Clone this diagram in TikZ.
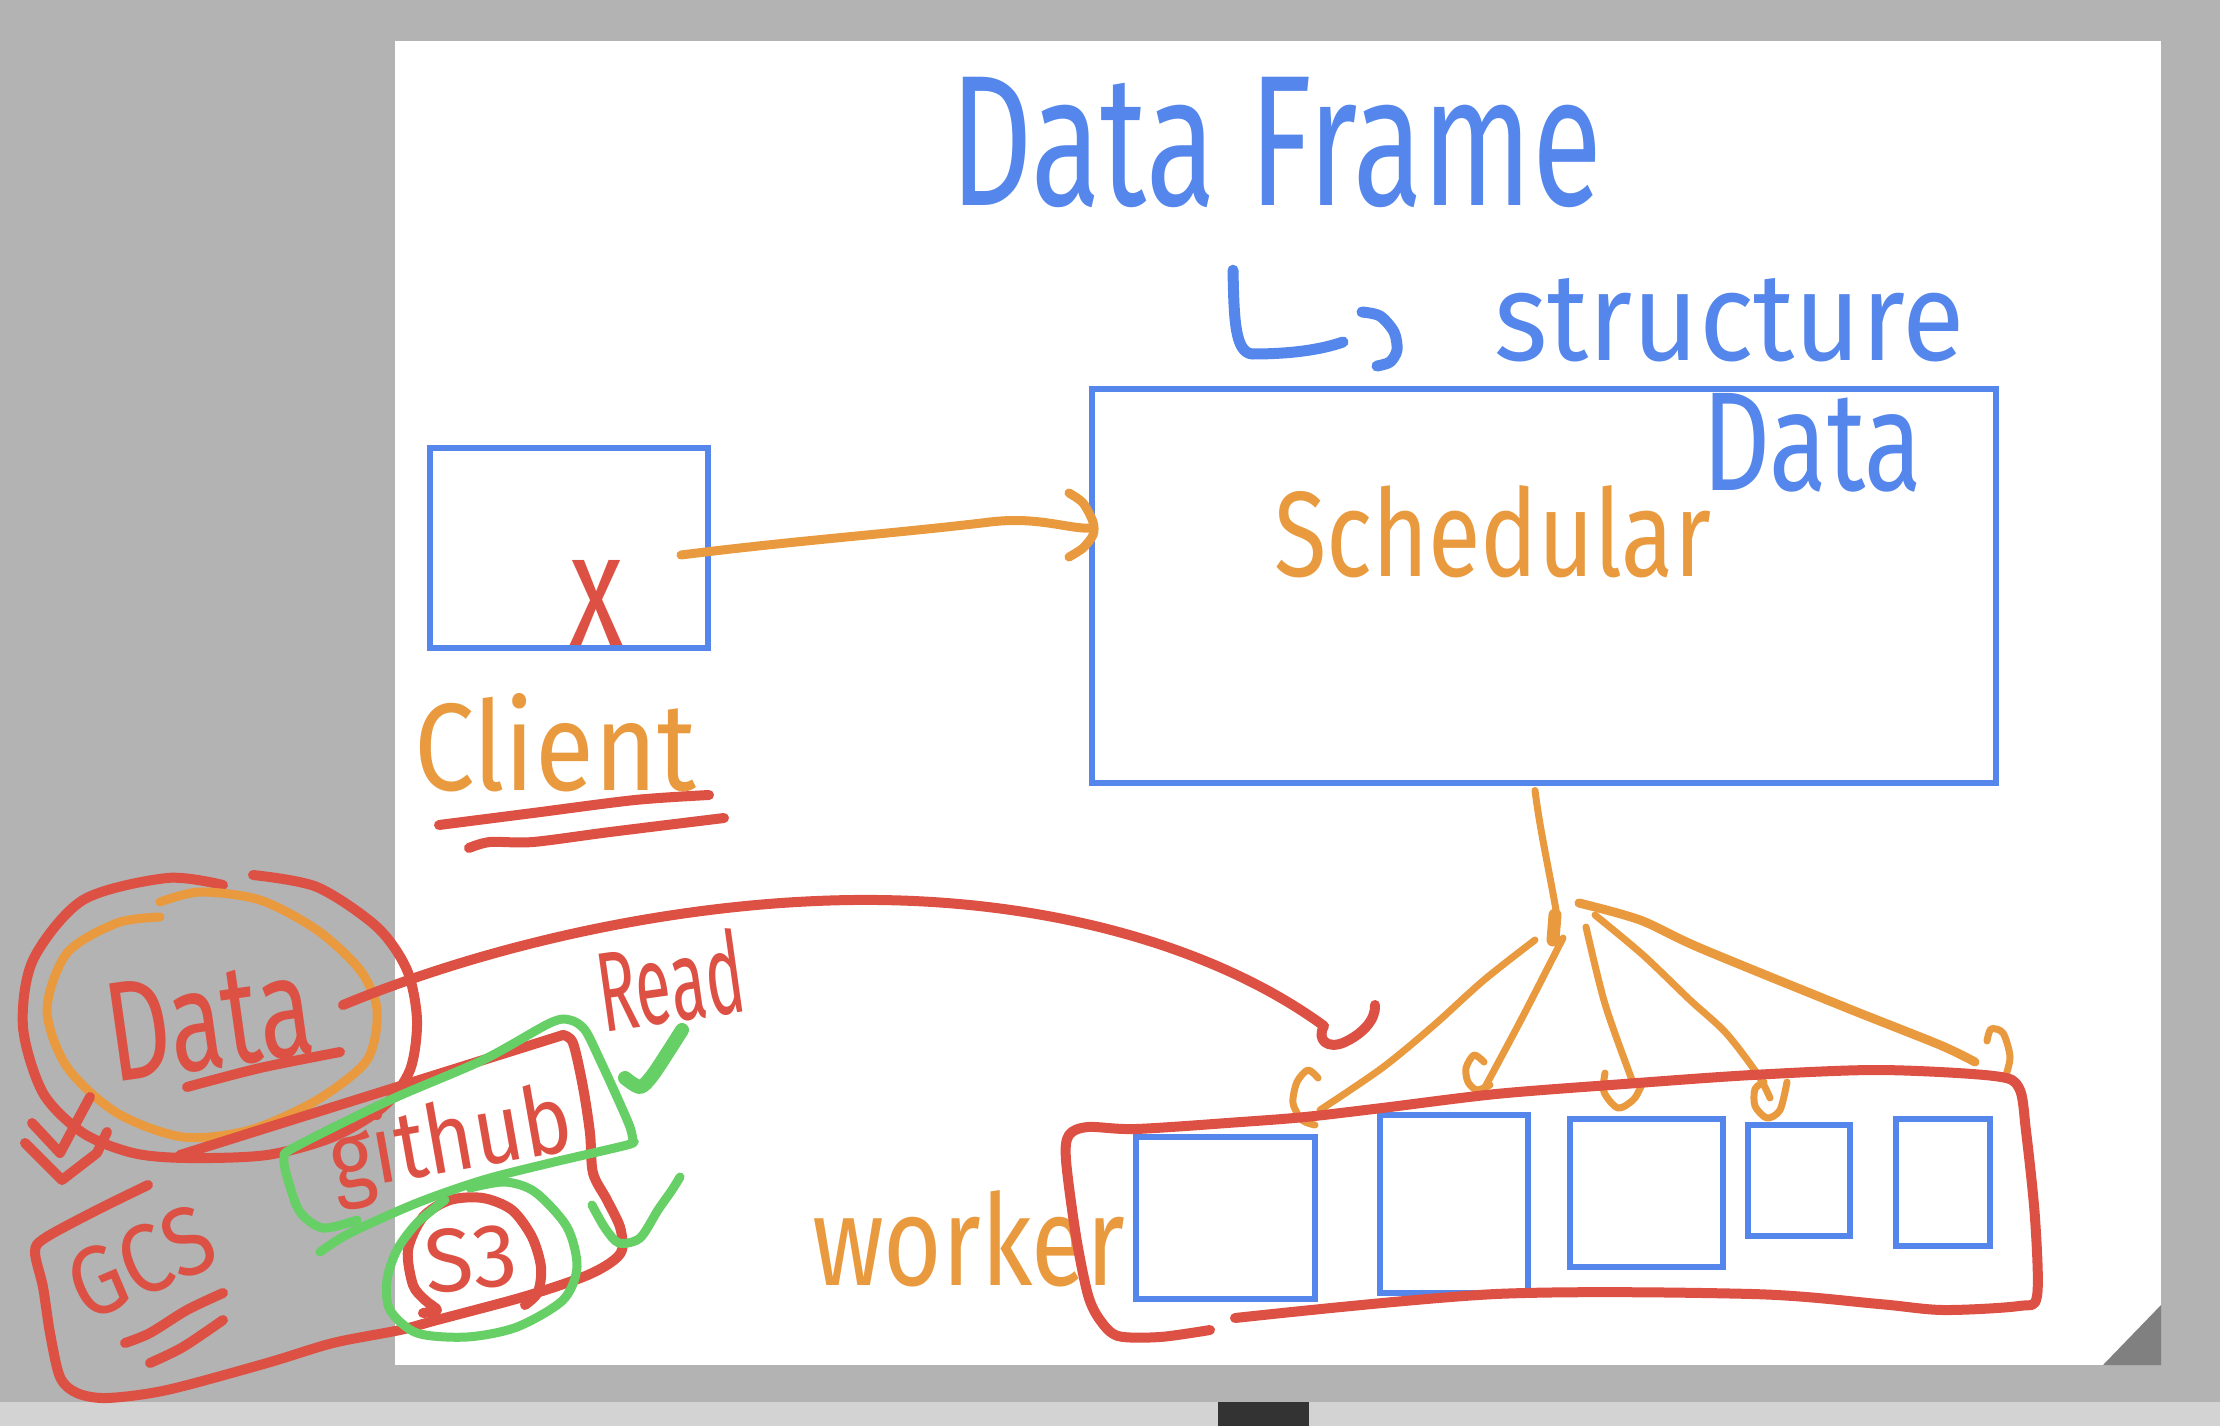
\documentclass[tikz,border=0pt]{standalone}
\usepackage{fontspec}
\setmainfont{Fira Sans}
\usepackage{graphicx}
\usetikzlibrary{calc}
\definecolor{penblue}{HTML}{5486EB}
\definecolor{penorange}{HTML}{E99A3F}
\definecolor{penred}{HTML}{DD5044}
\definecolor{pengreen}{HTML}{66CF66}
\definecolor{bggray}{HTML}{B3B3B3}
\definecolor{stripgray}{HTML}{D3D3D3}
\definecolor{cornergray}{HTML}{808080}
\definecolor{darkbar}{HTML}{333333}
\newcommand{\fitto}[3]{\resizebox{#1pt}{#2pt}{#3}}
\begin{document}
\begin{tikzpicture}[x=1pt,y=-1pt,
  bluebox/.style={draw=penblue, line width=6pt, inner sep=0pt, outer sep=0pt},
  pen/.style={line width=#1, line cap=round, line join=round},
  redpen/.style={pen=10pt, draw=penred},
  orangepen/.style={pen=9pt, draw=penorange},
  thinorange/.style={pen=7pt, draw=penorange},
  greenpen/.style={pen=9pt, draw=pengreen},
  bluepen/.style={pen=11pt, draw=penblue},
  handtext/.style={inner sep=0pt, outer sep=0pt, anchor=base west},
]
% ---------- background ----------
\useasboundingbox (0,0) rectangle (2220,1426);
\fill[bggray] (0,0) rectangle (2220,1426);
\fill[stripgray] (0,1402) rectangle (2220,1426);
\fill[darkbar] (1218,1402) rectangle (1309,1426);
\fill[white] (395,41) rectangle (2161,1365);
\fill[cornergray] (2103,1365) -- (2161,1305) -- (2161,1365) -- cycle;

% ---------- boxes ----------
\node[bluebox, minimum width=278pt, minimum height=200pt] (client) at (569,547.5) {};
\node[bluebox, minimum width=904pt, minimum height=394pt] (sched) at (1544,585.5) {};
\node[bluebox, minimum width=179pt, minimum height=162pt] (w1) at (1225.5,1218) {};
\node[bluebox, minimum width=148pt, minimum height=178pt] (w2) at (1454,1204) {};
\node[bluebox, minimum width=153pt, minimum height=148pt] (w3) at (1646.5,1193) {};
\node[bluebox, minimum width=102pt, minimum height=111pt] (w4) at (1799,1180.5) {};
\node[bluebox, minimum width=94pt, minimum height=127pt] (w5) at (1943,1182.5) {};

% ---------- texts ----------
\node[handtext, text=penblue] (tDF) at (950,205) {\fitto{652}{128}{Data Frame}};
\node[handtext, text=penblue] (tStruct) at (1494,360) {\fitto{470}{82}{structure}};
\node[handtext, text=penblue] (tDataB) at (1702,490) {\fitto{220}{97}{Data}};
\node[handtext, text=penorange] (tSched) at (1274,576) {\fitto{437}{91}{Schedular}};
\node[handtext, text=penorange] (tClient) at (414,790) {\fitto{282}{97}{Client}};
\node[handtext, text=penred] (tX) at (569,645) {\fitto{54}{85}{x}};
\node[handtext, text=penred, rotate=8] (tDataR) at (113,1082) {\fitto{207}{98}{Data}};
\node[handtext, text=penred, rotate=8] (tRead) at (603,1032) {\fitto{147}{85}{Read}};
\node[handtext, text=penred, rotate=10] (tGithub) at (335,1192) {\fitto{245}{75}{github}};
\node[handtext, text=penred, rotate=5] (tS3) at (427,1293) {\fitto{93}{63}{S3}};
\node[handtext, text=penred, rotate=23] (tGCS) at (85,1322) {\fitto{150}{68}{GCS}};
\node[handtext, text=penorange] (tWorker) at (812,1285) {\fitto{313}{95}{worker}};

% ---------- Data Frame -> structure hooked arrow ----------
\coordinate (lstart) at ($(tDF.south west)+(283,63)$);
\coordinate (ltip) at (1343,342);
\draw[bluepen] (lstart) .. controls (1234,320) and (1235,352) .. (1252,354) .. controls (1290,354) and (1320,350) .. (ltip);
\draw[bluepen] plot[smooth] coordinates {(1362,312) (1380,316) (1394,332) (1397,350) (1390,362) (1377,366)};

% ---------- client -> scheduler ----------
\coordinate (cstart) at ($(client.center)+(112,7.5)$);
\coordinate (ctip) at ($(sched.west)+(1,-57.5)$);
\draw[orangepen] (cstart) .. controls (800,540) and (900,533) .. (990,522) .. controls (1040,516) and (1070,530) .. (ctip);
\draw[orangepen] plot[smooth] coordinates {(1069,493) (1083,503) (1093,522) (1093,535) (1083,548) (1069,557)};

% ---------- Client underlines ----------
\draw[redpen] plot[smooth] coordinates {(439,825) (533,813) (635,800) (709,795)};
\draw[redpen] plot[smooth] coordinates {(469,848) (490,842) (533,842) (610,832) (724,818)};

% ---------- scheduler -> workers tree ----------
\coordinate (ttop) at ($(sched.south)+(-9,8)$);
\coordinate (knot) at (1556,910);
\draw[thinorange] (ttop) .. controls (1540,830) and (1549,870) .. (knot);
\draw[orangepen, line width=13pt] (1555,915) -- (1553,940);
% branch 1
\draw[thinorange] plot[smooth] coordinates {(1535,940) (1484,980) (1433,1026) (1382,1068) (1320,1110)};
\draw[thinorange] plot[smooth] coordinates {(1318,1078) (1308,1070) (1297,1082) (1293,1103) (1302,1120) (1315,1125)};
% branch 2
\draw[thinorange] plot[smooth] coordinates {(1563,938) (1522,1018) (1484,1089)};
\draw[thinorange] plot[smooth] coordinates {(1490,1085) (1477,1090) (1468,1082) (1466,1068) (1474,1055) (1484,1062)};
% branch 3
\draw[thinorange] plot[smooth] coordinates {(1586,927) (1605,1004) (1632,1080)};
\draw[thinorange] plot[smooth] coordinates {(1605,1073) (1604,1092) (1618,1108) (1634,1099) (1643,1082)};
% branch 4
\draw[thinorange] plot[smooth] coordinates {(1595,915) (1643,955) (1690,1000) (1726,1033) (1758,1075) (1770,1098)};
\draw[thinorange] plot[smooth] coordinates {(1764,1082) (1755,1089) (1755,1106) (1767,1118) (1780,1110) (1787,1082)};
% branch 5
\draw[orangepen] plot[smooth] coordinates {(1579,903) (1640,920) (1700,948) (1847,1008) (1940,1045) (1975,1062)};
\draw[thinorange] plot[smooth] coordinates {(1987,1041) (1991,1029) (2003,1033) (2010,1057) (2005,1078)};

% ---------- worker enclosure ----------
\draw[redpen] plot[smooth] coordinates {(1235,1318) (1496,1294) (1752,1294) (1879,1304) (1943,1310) (2019,1306) (2037,1296) (2035,1218) (2026,1131) (2019,1088) (1994,1076) (1879,1070) (1752,1075) (1624,1084) (1496,1094) (1382,1108) (1305,1117) (1241,1122) (1136,1129) (1088,1127) (1069,1135) (1066,1160) (1076,1236) (1088,1295) (1100,1320) (1118,1336) (1160,1337) (1210,1330)};

% ---------- Data circle and arrow ----------
\draw[redpen] plot[smooth] coordinates {(253,875) (317,887) (377,927) (407,970) (417,1020) (410,1070) (383,1107) (333,1137) (267,1155) (187,1158) (133,1153) (83,1133) (43,1093) (23,1027) (33,960) (83,900) (167,878) (223,885)};
\draw[orangepen] plot[smooth] coordinates {(160,917) (117,923) (67,953) (47,1010) (67,1067) (117,1113) (183,1137) (250,1130) (317,1100) (367,1060) (377,1010) (360,970) (317,930) (260,900) (200,892) (160,902)};
\draw[redpen] plot[smooth] coordinates {(187,1087) (260,1068) (340,1052)};
\draw[redpen] (32,1123) -- (60,1153) -- (90,1097);
\draw[redpen] (25,1143) -- (62,1180) -- (97,1153) -- (107,1132);

\coordinate (dstart) at (343,1005);
\coordinate (dend) at (1324,1026);
\draw[redpen] (dstart) .. controls (500,940) and (700,898) .. (878,900) .. controls (1060,902) and (1220,950) .. (dend) .. controls (1316,1040) and (1328,1050) .. (1345,1042) .. controls (1362,1034) and (1376,1020) .. (1375,1005);

% ---------- github / GCS outline ----------
\draw[redpen] (180,1155) -- (563,1035);
\draw[redpen] plot[smooth] coordinates {(563,1035) (573,1043) (583,1087) (590,1133) (593,1173) (607,1200) (620,1227) (622,1250) (610,1263) (583,1277) (523,1297) (437,1320) (400,1330) (333,1343) (267,1363) (167,1390) (107,1398) (77,1393) (60,1377) (50,1333) (43,1287) (35,1252) (45,1238) (97,1210) (148,1185)};
\draw[redpen] plot[smooth] coordinates {(125,1343) (150,1333) (187,1310) (223,1293)};
\draw[redpen] plot[smooth] coordinates {(150,1363) (183,1347) (223,1320)};
% S3 circle
\draw[redpen] plot[smooth] coordinates {(423,1313) (437,1310) (425,1300) (413,1285) (408,1250) (423,1217) (450,1200) (483,1198) (512,1210) (532,1237) (541,1267) (538,1292) (525,1305)};

% ---------- green marks ----------
\draw[greenpen] plot[smooth] coordinates {(357,1220) (323,1228) (300,1212) (288,1180) (284,1158) (295,1147) (390,1100) (483,1060) (550,1023) (570,1020) (585,1030) (600,1060) (617,1097) (630,1127) (633,1141)};
\draw[greenpen] plot[smooth] coordinates {(633,1141) (627,1145) (550,1163) (483,1180) (417,1203) (350,1233) (320,1252)};
\draw[greenpen] plot[smooth] coordinates {(470,1188) (505,1182) (535,1192) (567,1227) (577,1267) (563,1300) (517,1327) (467,1337) (417,1333) (390,1310) (387,1280) (397,1250) (417,1223) (445,1200)};
\draw[greenpen, line width=14pt] plot[smooth] coordinates {(682,1030) (668,1052) (652,1076) (640,1087) (625,1078)};
\draw[greenpen] plot[smooth] coordinates {(592,1205) (605,1228) (619,1243) (640,1238) (658,1210) (672,1190) (680,1177)};
\end{tikzpicture}
\end{document}
